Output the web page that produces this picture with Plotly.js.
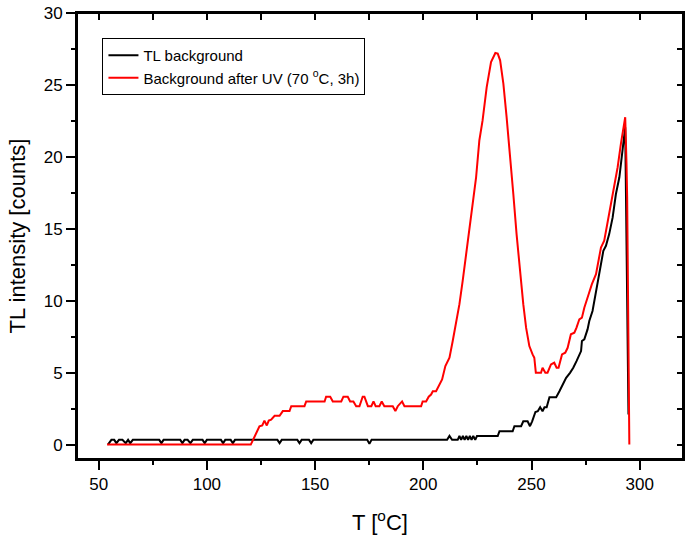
<!DOCTYPE html>
<html>
<head>
<meta charset="utf-8">
<script src="https://cdn.plot.ly/plotly-3.0.1.min.js"></script>
<style>
  html, body { margin: 0; padding: 0; background: #fff; }
  #tl { width: 685px; height: 538px; }
</style>
</head>
<body>
<div id="tl"></div>
<script>
'use strict'
/* TL glow curves: background before and after UV exposure */

/* TL background (black) */
var bgTemp = [54.3, 55.9, 57.2, 58.2, 59.4, 61, 62.5, 63.6, 64.6, 65.8, 78, 79, 80, 87.7, 88.7, 89.7, 91.1, 92.4, 93.5,
    98, 99, 100, 106.5, 107.5, 108.5, 111, 112, 113, 132.6, 133.6, 134.6, 141.8, 142.8, 143.8, 147.2, 148.2, 149.2,
    174.1, 175.1, 176.1, 211, 212.1, 213.3, 215.9, 216.7, 217.5, 218.3, 219.1, 219.9, 220.7, 221.5, 222.3, 223.1,
    224, 224.8, 234.4, 235.2, 241.3, 242.1, 245.2, 246.2, 248.2, 249.3, 250.3, 251.8, 252.9, 254, 255.1, 256, 257,
    258.3, 261.4, 262.9, 264.4, 266, 267.8, 269.3, 270.8, 272.9, 273.3, 274.4, 275.9, 276.7, 278.2, 279.8, 281.3,
    283.2, 284.4, 285.9, 287.5, 289, 290.6, 291.8, 292.9, 293.3, 294.8];
var bgCounts = [0, 0.33, 0.33, 0.1, 0.33, 0.33, 0.1, 0.33, 0.1, 0.33, 0.33, 0.1, 0.33, 0.33, 0.1, 0.33, 0.33, 0.1, 0.33,
    0.33, 0.1, 0.33, 0.33, 0.1, 0.33, 0.33, 0.1, 0.33, 0.33, 0.1, 0.33, 0.33, 0.1, 0.33, 0.33, 0.1, 0.33,
    0.33, 0.05, 0.33, 0.33, 0.6, 0.33, 0.33, 0.6, 0.33, 0.6, 0.33, 0.6, 0.33, 0.6, 0.33, 0.6,
    0.33, 0.6, 0.6, 0.93, 0.93, 1.28, 1.28, 1.62, 1.62, 1.28, 1.62, 2.27, 2.32, 2.6, 2.32, 2.6, 2.6,
    3.3, 3.3, 3.71, 4.18, 4.64, 4.99, 5.34, 5.8, 6.5, 7.2, 7.32, 8.01, 8.59, 9.29, 10.56, 11.85,
    13.47, 13.82, 14.63, 15.79, 17.42, 18.58, 19.97, 21.6, 22.06, 2.1];

/* Background after UV (red) */
var uvTemp = [53.9, 120.3, 124.3, 125.6, 126.6, 127.7, 128.6, 129.7, 131.3, 133.6, 135.1, 138.2, 139, 145.1, 145.9,
    154.4, 155.1, 157, 158.2, 162.1, 163.1, 165.1, 166.2, 167.7, 169, 170.5, 172, 172.8, 174.4, 176, 177, 178,
    179.7, 180.8, 182, 185.9, 187.1, 188.2, 190.2, 191.3, 199, 199.7, 201.3, 202.5, 203.6, 204.4, 205.9, 207.1,
    208.7, 210.2, 212.1, 213.6, 215.2, 216.7, 218.2, 219.8, 221.3, 222.8, 224.4, 225.9, 227.4, 229.3, 231.3,
    233.3, 234.4, 235.5, 237, 238.5, 240.1, 241.6, 243.1, 244.7, 246.2, 247.5, 249, 250.5, 251.3, 252, 254.4,
    255.1, 256.4, 257.4, 259, 260.5, 261.6, 262.5, 264.1, 265.6, 266.7, 268.2, 269.8, 270.8, 272.1, 273.3,
    274.4, 276.4, 277.9, 279.8, 282.1, 283.6, 285.2, 286.7, 288.2, 289.8, 291.3, 292.4, 293.3, 293.9, 294.2, 295.2];
var uvCounts = [0, 0, 1.27, 1.34, 1.67, 1.33, 1.67, 1.74, 2, 2, 2.33, 2.33, 2.67, 2.67, 3,
    3, 3.33, 3.33, 3, 3, 3.33, 3.33, 3, 3, 2.67, 2.67, 3.33, 3.33, 2.67, 2.67, 3, 2.67,
    2.67, 3, 2.67, 2.67, 2.33, 2.67, 3, 2.67, 2.67, 3, 3, 3.33, 3.48, 3.71, 3.71, 4.06,
    4.53, 5.46, 6.04, 7.2, 8.59, 9.76, 11.38, 13.24, 14.86, 16.72, 18.58, 21.14, 22.53, 24.85, 26.59,
    27.22, 27.18, 26.71, 25.09, 22.76, 20.21, 17.42, 14.63, 11.85, 9.76, 8.13, 6.85, 6.27, 6.04, 5, 5,
    5.34, 5, 5, 5.57, 5.69, 5.34, 5.34, 6.27, 6.39, 6.73, 7.67, 7.78, 8.13, 8.71, 8.82,
    9.52, 10.45, 11.15, 11.85, 13.7, 14.17, 15.44, 16.61, 17.88, 19.28, 20.91, 21.83, 22.76, 19.51, 17.19, 0];

var xRange = [40, 320];
var yRange = [-1, 30];

var font = 'Liberation Sans, Arial, sans-serif';

var background = {
    type: 'scatter',
    mode: 'lines',
    name: 'TL background',
    x: bgTemp,
    y: bgCounts,
    line: {color: '#000000', width: 2}
};

var afterUV = {
    type: 'scatter',
    mode: 'lines',
    name: 'Background after UV (70 <sup>o</sup>C, 3h)',
    x: uvTemp,
    y: uvCounts,
    line: {color: '#ff0000', width: 2}
};

/* copies with no visible line, only there so the extra tick axes get drawn */
var frameHolder = {
    type: 'scatter', mode: 'lines',
    x: uvTemp, y: uvCounts,
    xaxis: 'x2', yaxis: 'y2',
    showlegend: false, hoverinfo: 'skip',
    line: {width: 0}
};
var minorHolder = {
    type: 'scatter', mode: 'lines',
    x: uvTemp, y: uvCounts,
    xaxis: 'x3', yaxis: 'y3',
    showlegend: false, hoverinfo: 'skip',
    line: {width: 0}
};

var tickFont = {family: font, size: 17, color: '#000'};

var layout = {
    width: 685,
    height: 538,
    margin: {l: 77, r: 2, t: 13, b: 79},
    paper_bgcolor: '#fff',
    plot_bgcolor: '#fff',
    showlegend: true,
    font: {family: font, color: '#000'},
    xaxis: {
        range: xRange.slice(),
        tick0: 50, dtick: 50,
        showgrid: false, zeroline: false,
        showline: true, linecolor: '#000', linewidth: 2,
        ticks: 'outside', ticklen: 9, tickwidth: 2, tickcolor: '#000',
        tickfont: tickFont,
        title: {text: 'T [<sup>o</sup>C]', font: {family: font, size: 22}, standoff: 21}
    },
    yaxis: {
        range: yRange.slice(),
        tick0: 0, dtick: 5,
        showgrid: false, zeroline: false,
        showline: true, linecolor: '#000', linewidth: 2,
        ticks: 'outside', ticklen: 9, tickwidth: 2, tickcolor: '#000',
        tickfont: tickFont,
        title: {text: 'TL intensity [counts]', font: {family: font, size: 22}, standoff: 12}
    },
    /* top and right axes with inward ticks */
    xaxis2: {
        overlaying: 'x', anchor: 'y2', side: 'top',
        range: xRange.slice(),
        showgrid: false, zeroline: false,
        showline: true, linewidth: 2, linecolor: '#000',
        ticks: 'inside', ticklen: 7, tickwidth: 2, tickcolor: '#000',
        showticklabels: false
    },
    yaxis2: {
        overlaying: 'y', anchor: 'x2', side: 'right',
        range: yRange.slice(),
        showgrid: false, zeroline: false,
        showline: true, linewidth: 2, linecolor: '#000',
        ticks: 'inside', ticklen: 6, tickwidth: 2, tickcolor: '#000',
        showticklabels: false
    },
    /* short in-between ticks on the bottom and left axes */
    xaxis3: {
        overlaying: 'x', anchor: 'y3', side: 'bottom',
        range: xRange.slice(),
        showgrid: false, zeroline: false, showline: false,
        ticks: 'outside', ticklen: 5, tickwidth: 2, tickcolor: '#000',
        showticklabels: false
    },
    yaxis3: {
        overlaying: 'y', anchor: 'x3', side: 'left',
        range: yRange.slice(),
        showgrid: false, zeroline: false, showline: false,
        ticks: 'outside', ticklen: 5, tickwidth: 2, tickcolor: '#000',
        showticklabels: false
    },
    /* plot frame */
    shapes: [{
        type: 'rect', xref: 'paper', yref: 'paper',
        x0: 0, x1: 1, y0: 0, y1: 1,
        line: {color: '#000', width: 2},
        layer: 'above'
    }],
    legend: {
        x: 0.042,
        y: 0.944,
        xanchor: 'left',
        yanchor: 'top',
        bgcolor: '#fff',
        bordercolor: '#000',
        borderwidth: 1,
        tracegroupgap: 0,
        font: {family: font, size: 15, color: '#000'}
    }
};

/* tick spacing of the helper axes */
layout.xaxis2.dtick = 25;
layout.yaxis2.dtick = 2.5;
layout.xaxis3.dtick = 25;
layout.yaxis3.dtick = 2.5;

Plotly.newPlot('tl', [background, afterUV, frameHolder, minorHolder], layout, {displayModeBar: false});
</script>
</body>
</html>
